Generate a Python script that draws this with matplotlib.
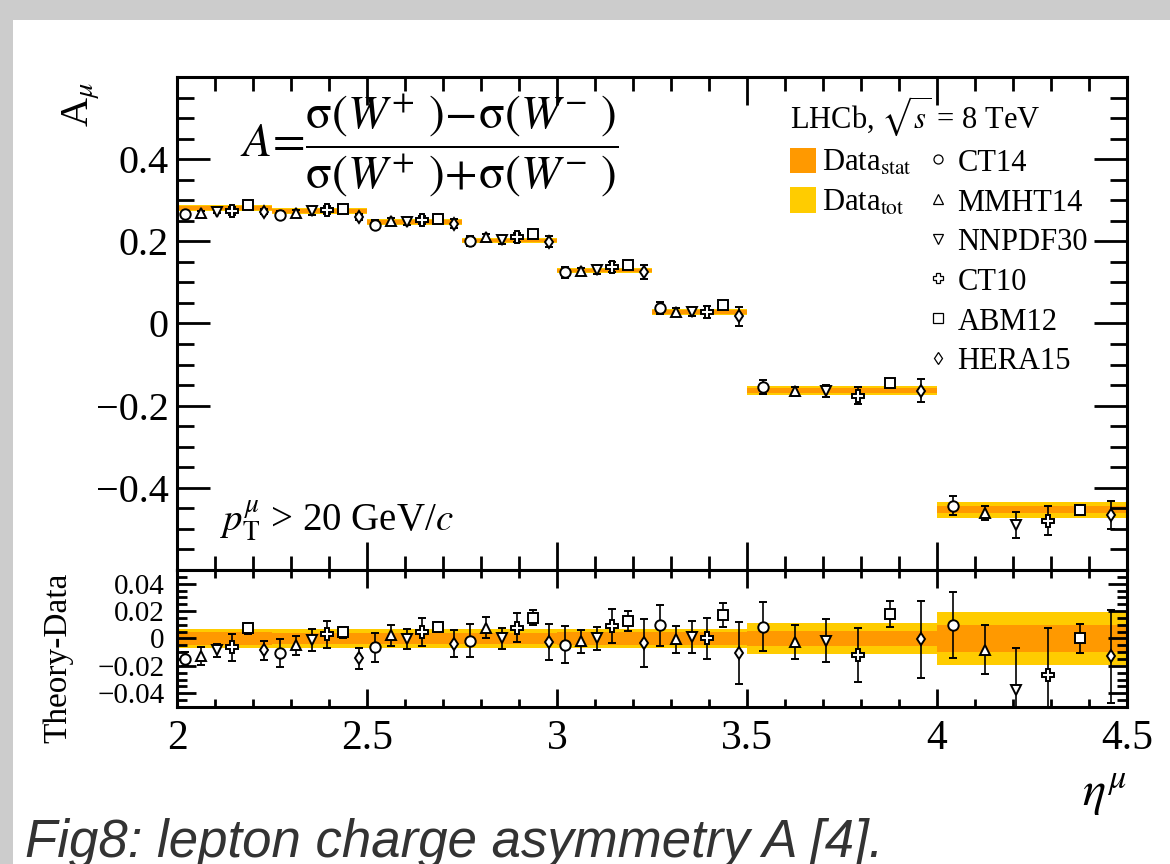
import numpy as np
import matplotlib
matplotlib.use('Agg')
import matplotlib.pyplot as plt
from matplotlib.patches import Patch, Rectangle
from matplotlib.lines import Line2D
from matplotlib.ticker import MultipleLocator, FixedLocator, FuncFormatter

plt.rcParams['font.family'] = ['Liberation Serif', 'DejaVu Serif']
plt.rcParams['mathtext.fontset'] = 'stix'

# eta bins and LHCb muon charge asymmetry
bin_edges = [2.0, 2.25, 2.5, 2.75, 3.0, 3.25, 3.5, 4.0, 4.5]
data_val = [0.281, 0.274, 0.247, 0.202, 0.129, 0.028, -0.163, -0.453]
stat_err = [0.0045, 0.0042, 0.0042, 0.0042, 0.0045, 0.0048, 0.0055, 0.0095]
tot_err = [0.0072, 0.0068, 0.0068, 0.0068, 0.0070, 0.0072, 0.0115, 0.0195]

# theory - data for each PDF set, with PDF uncertainty
models = ['CT14', 'MMHT14', 'NNPDF30', 'CT10', 'ABM12', 'HERA15']
ct14_diff = [-0.015, -0.0106, -0.0064, -0.0015, -0.0044, 0.0096, 0.0086, 0.0099]
ct14_err = [0.005, 0.0099, 0.0107, 0.012, 0.0132, 0.015, 0.0178, 0.0238]
mmht14_diff = [-0.013, -0.005, 0.0022, 0.0079, -0.002, -0.0007, -0.0025, -0.0081]
mmht14_err = [0.0065, 0.0068, 0.0074, 0.0077, 0.0083, 0.0096, 0.0121, 0.0179]
nnpdf30_diff = [-0.0087, -0.0012, -0.0002, 0.0, 0.0, 0.001, -0.0015, -0.0378]
nnpdf30_err = [0.0045, 0.0078, 0.0074, 0.0077, 0.0086, 0.0115, 0.0154, 0.031]
ct10_diff = [-0.0064, 0.003, 0.0047, 0.0079, 0.0091, 0.0, -0.0123, -0.0267]
ct10_err = [0.010, 0.0099, 0.010, 0.0105, 0.0121, 0.0147, 0.0198, 0.0346]
abm12_diff = [0.0074, 0.0047, 0.0084, 0.0153, 0.0128, 0.017, 0.0178, 0.0]
abm12_err = [0.004, 0.004, 0.004, 0.0054, 0.007, 0.0086, 0.0096, 0.0105]
hera15_diff = [-0.0087, -0.0143, -0.0037, -0.0027, -0.0032, -0.0106, -0.0007, -0.013]
hera15_err = [0.007, 0.0077, 0.010, 0.013, 0.0175, 0.0225, 0.0284, 0.034]

diffs = [ct14_diff, mmht14_diff, nnpdf30_diff, ct10_diff, abm12_diff, hera15_diff]
errs = [ct14_err, mmht14_err, nnpdf30_err, ct10_err, abm12_err, hera15_err]
markers = ['o', '^', 'v', 'P', 's', 'd']
msizes = [7.5, 7.5, 7.5, 8, 6.5, 6.5]

stat_color = '#ff9900'
tot_color = '#ffcc00'

fig = plt.figure(figsize=(11.7, 8.64), dpi=100)
fig.patch.set_facecolor('#cccccc')
fig.add_artist(Rectangle((13 / 1170, 0), 1, (864 - 20) / 864, transform=fig.transFigure,
                         facecolor='white', edgecolor='none', zorder=0))

ax1 = fig.add_axes([0.1513, 0.3403, 0.812, 0.5706])
ax2 = fig.add_axes([0.1513, 0.1817, 0.812, 0.1586])

lo = np.array(bin_edges[:-1])
w = np.diff(bin_edges)
val = np.array(data_val)
stat = np.array(stat_err)
tot = np.array(tot_err)

# data bands
ax1.bar(lo, 2 * tot, bottom=val - tot, width=w, align='edge', color=tot_color, lw=0, zorder=1)
ax1.bar(lo, 2 * stat, bottom=val - stat, width=w, align='edge', color=stat_color, lw=0, zorder=1)
ax2.bar(lo, 2 * tot, bottom=-tot, width=w, align='edge', color=tot_color, lw=0, zorder=1)
ax2.bar(lo, 2 * stat, bottom=-stat, width=w, align='edge', color=stat_color, lw=0, zorder=1)

# theory points
for k in range(len(models)):
    x = lo + (k + 0.5) * w / 6
    d = np.array(diffs[k])
    e = np.array(errs[k])
    style = dict(fmt=markers[k], ms=msizes[k], mfc='white', mec='black', mew=1.4,
                 ecolor='black', elinewidth=1.2, capsize=3, capthick=1.2, zorder=3)
    ax1.errorbar(x, val + d, yerr=e, **style)
    ax2.errorbar(x, d, yerr=e, **style)

fmt = FuncFormatter(lambda v, p: '0' if abs(v) < 1e-9 else ('%g' % v).replace('-', '\u2212'))

for ax in (ax1, ax2):
    ax.set_xlim(2, 4.5)
    ax.xaxis.set_major_locator(MultipleLocator(0.5))
    ax.xaxis.set_minor_locator(MultipleLocator(0.1))
    for s in ax.spines.values():
        s.set_linewidth(2.2)
        s.set_zorder(5)

ax1.set_ylim(-0.6, 0.6)
ax1.yaxis.set_major_locator(FixedLocator([-0.4, -0.2, 0, 0.2, 0.4]))
ax1.yaxis.set_minor_locator(MultipleLocator(0.05))
ax1.yaxis.set_major_formatter(fmt)
ax1.tick_params(axis='y', which='major', direction='in', length=24, width=2, labelsize=29, pad=6, right=True)
ax1.tick_params(axis='y', which='minor', direction='in', length=12, width=2, right=True)
ax1.tick_params(axis='x', which='major', direction='in', length=20, width=2, top=True, labelbottom=False)
ax1.tick_params(axis='x', which='minor', direction='in', length=10, width=2, top=True)

ax2.set_ylim(-0.05, 0.05)
ax2.yaxis.set_major_locator(FixedLocator([-0.04, -0.02, 0, 0.02, 0.04]))
ax2.yaxis.set_minor_locator(MultipleLocator(0.005))
ax2.yaxis.set_major_formatter(fmt)
ax2.xaxis.set_major_formatter(FuncFormatter(lambda v, p: '%g' % v))
ax2.tick_params(axis='y', which='major', direction='in', length=14, width=2, labelsize=21, pad=9, right=True)
ax2.tick_params(axis='y', which='minor', direction='in', length=7, width=2, right=True)
ax2.tick_params(axis='x', which='major', direction='in', length=13, width=2, labelsize=30, pad=9, top=True)
ax2.tick_params(axis='x', which='minor', direction='in', length=6, width=2, top=True)

# axis titles
ax1.text(-0.101, 0.99, r'A$_{\mu}$', transform=ax1.transAxes, rotation=90,
         ha='center', va='top', fontsize=29)
ax2.text(-0.125, 0.36, 'Theory-Data', transform=ax2.transAxes, rotation=90,
         ha='center', va='center', fontsize=24)
ax2.text(0.976, -0.64, r'$\eta^{\mu}$', transform=ax2.transAxes,
         ha='center', va='center', fontsize=35)

# annotations
ax1.text(0.066, 0.862,
         r'$A\!=\!\dfrac{\mathrm{\sigma}\left(W^{+}\ \right)\!-\!\mathrm{\sigma}\left(W^{-}\ \right)}'
         r'{\mathrm{\sigma}\left(W^{+}\ \right)\!+\!\mathrm{\sigma}\left(W^{-}\ \right)}$',
         transform=ax1.transAxes, ha='left', va='center', fontsize=34)
ax1.text(0.045, 0.10, r'$p_{\mathrm{T}}^{\mu}$ > 20 GeV/$c$', transform=ax1.transAxes,
         ha='left', va='center', fontsize=28)

# legend
blank = Patch(facecolor='none', edgecolor='none')
handles = [Patch(facecolor=stat_color, edgecolor='none'),
           Patch(facecolor=tot_color, edgecolor='none'),
           blank, blank, blank, blank]
handles += [Line2D([], [], marker=m, ls='none', ms=6.5, mfc='white', mec='black', mew=0.9)
            for m in markers]
labels = [r'Data$_{\rm stat}$', r'Data$_{\rm tot}$', '', '', '', ''] + models
ax1.legend(handles, labels, ncol=2, loc='upper left', bbox_to_anchor=(0.645, 0.965),
           frameon=False, fontsize=22, title=r'LHCb, $\sqrt{s}$ = 8 TeV', title_fontsize=22,
           alignment='left', handlelength=0.85, handleheight=0.9, handletextpad=0.2,
           columnspacing=0.45, labelspacing=0.31, borderpad=0, borderaxespad=0)

fig.text(25 / 1170, (864 - 857) / 864, 'Fig8: lepton charge asymmetry A [4].',
         family='Liberation Sans', style='italic', fontsize=38, color='#333333',
         ha='left', va='baseline')

fig.savefig('out.png', dpi=100, facecolor=fig.get_facecolor())
